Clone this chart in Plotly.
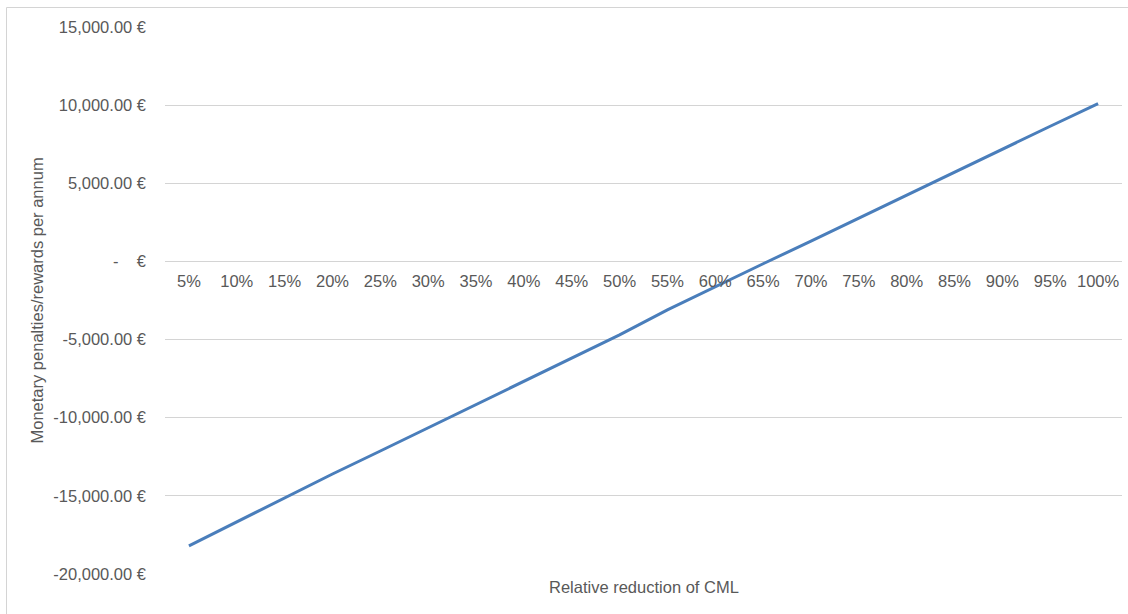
import plotly.graph_objects as go

# Relative reduction of CML (category axis)
reduction = ["5%", "10%", "15%", "20%", "25%", "30%", "35%", "40%", "45%", "50%",
             "55%", "60%", "65%", "70%", "75%", "80%", "85%", "90%", "95%", "100%"]

# Monetary penalties (-) / rewards (+) per annum, in EUR
penalty_reward = [-18200, -16650, -15100, -13600, -12130, -10650, -9170, -7680, -6200, -4700,
                  -3100, -1600, -150, 1300, 2780, 4260, 5740, 7200, 8650, 10100]

# Value axis ticks in accounting format
y_ticks = [-20000, -15000, -10000, -5000, 0, 5000, 10000, 15000]
y_tick_text = ["-20,000.00 €", "-15,000.00 €", "-10,000.00 €", "-5,000.00 €",
               "-\u00a0\u00a0\u00a0\u00a0€", "5,000.00 €", "10,000.00 €", "15,000.00 €"]

W, H = 1128, 614
ML, MR, MT, MB = 165, 6, 27, 40
plot_w = W - ML - MR
plot_h = H - MT - MB

Y_MIN, Y_MAX = -20000, 15000
zero_pos = (0 - Y_MIN) / (Y_MAX - Y_MIN)

FONT = "Liberation Sans, Arial, sans-serif"
GREY = "#595959"
GRID = "#d4d4d4"

fig = go.Figure(
    go.Scatter(
        x=reduction,
        y=penalty_reward,
        mode="lines",
        line=dict(color="#4a7ebb", width=3),
        hoverinfo="skip",
        showlegend=False,
    )
)

fig.update_layout(
    width=W,
    height=H,
    margin=dict(l=ML, r=MR, t=MT, b=MB),
    paper_bgcolor="white",
    plot_bgcolor="white",
    font=dict(family=FONT, size=16.5, color=GREY),
    xaxis=dict(
        type="category",
        range=[-0.5, len(reduction) - 0.5],
        showgrid=False,
        showline=False,
        zeroline=False,
        ticks="",
        anchor="free",
        position=zero_pos,
        ticklabelstandoff=8,
        tickfont=dict(family=FONT, size=16.5, color=GREY),
    ),
    yaxis=dict(
        range=[Y_MIN, Y_MAX],
        tickmode="array",
        tickvals=y_ticks,
        ticktext=y_tick_text,
        showgrid=True,
        gridcolor=GRID,
        gridwidth=1,
        zeroline=False,
        showline=False,
        ticks="",
        ticklabelstandoff=18,
        tickfont=dict(family=FONT, size=16.5, color=GREY),
    ),
    annotations=[
        dict(
            text="Relative reduction of CML",
            xref="paper", yref="paper",
            x=0.5, y=-13 / plot_h,
            xanchor="center", yanchor="middle",
            showarrow=False,
            font=dict(family=FONT, size=16.5, color=GREY),
        ),
        dict(
            text="Monetary penalties/rewards per annum",
            xref="paper", yref="paper",
            x=(36 - ML) / plot_w, y=0.5,
            xanchor="center", yanchor="middle",
            textangle=-90,
            showarrow=False,
            font=dict(family=FONT, size=16.5, color=GREY),
        ),
    ],
    shapes=[
        # chart area border
        dict(
            type="rect",
            xref="paper", yref="paper",
            x0=(6.5 - ML) / plot_w, x1=(W + 10 - ML) / plot_w,
            y0=(H - MB - (H + 10)) / plot_h, y1=(H - MB - 7.5) / plot_h,
            line=dict(color=GRID, width=1),
            fillcolor="rgba(0,0,0,0)",
            layer="below",
        )
    ],
)

fig.write_html("out.html")
